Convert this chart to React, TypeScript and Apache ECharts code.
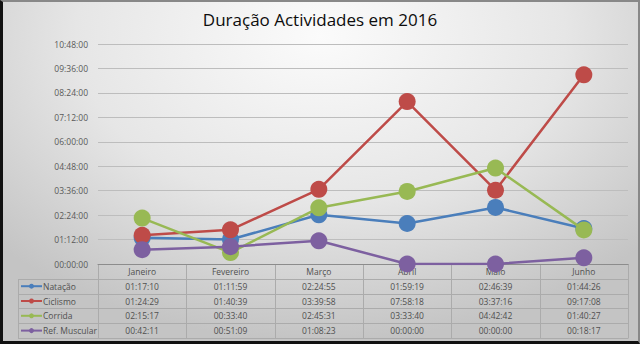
import React, { useEffect, useRef } from "react";
import * as echarts from "echarts";

const categories = ["Janeiro", "Fevereiro", "Março", "Abril", "Maio", "Junho"];
const seriesNames = ["Natação", "Ciclismo", "Corrida", "Ref. Muscular"];
const natacao = ["01:17:10", "01:11:59", "02:24:55", "01:59:19", "02:46:39", "01:44:26"];
const ciclismo = ["01:24:29", "01:40:39", "03:39:58", "07:58:18", "03:37:16", "09:17:08"];
const corrida = ["02:15:17", "00:33:40", "02:45:31", "03:33:40", "04:42:42", "01:40:27"];
const refMuscular = ["00:42:11", "00:51:09", "01:08:23", "00:00:00", "00:00:00", "00:18:17"];
const yMax = "10:48:00";
const yInterval = "01:12:00";

const colors = ["#4a7ebb", "#be4b48", "#98b954", "#7d60a0"];

const toSec = (s: string) => {
  const [h, m, x] = s.split(":").map(Number);
  return h * 3600 + m * 60 + x;
};
const pad = (n: number) => String(n).padStart(2, "0");
const fmt = (v: number) => {
  const h = Math.floor(v / 3600);
  const m = Math.floor((v % 3600) / 60);
  const s = Math.round(v % 60);
  return `${pad(h)}:${pad(m)}:${pad(s)}`;
};

const rows = [natacao, ciclismo, corrida, refMuscular];

const W = 640;
const H = 344;
const GL = 98;
const GR = 628;
const GT = 44;
const GB = 264;
const RH = 14.8;
const TL = 18;
const FONT = "'Open Sans', 'Noto Sans', sans-serif";
const TXT = "#505050";

export default function App() {
  const ref = useRef<HTMLDivElement>(null);
  useEffect(() => {
    if (!ref.current) return;
    const chart = echarts.init(ref.current, undefined, { renderer: "svg" });
    const colW = (GR - GL) / categories.length;
    const graphics: any[] = [];
    const lineColor = "#ababab";
    for (let i = 1; i <= rows.length + 1; i++) {
      const y = Math.round(GB + i * RH) + 0.5;
      graphics.push({
        type: "line",
        shape: { x1: TL, y1: y, x2: GR, y2: y },
        style: { stroke: lineColor, lineWidth: 1 },
        silent: true,
      });
    }
    for (let c = 0; c <= categories.length; c++) {
      const x = Math.round(GL + c * colW) + 0.5;
      graphics.push({
        type: "line",
        shape: { x1: x, y1: GB, x2: x, y2: Math.round(GB + (rows.length + 1) * RH) + 0.5 },
        style: { stroke: lineColor, lineWidth: 1 },
        silent: true,
      });
    }
    graphics.push({
      type: "line",
      shape: { x1: TL + 0.5, y1: Math.round(GB + RH) + 0.5, x2: TL + 0.5, y2: Math.round(GB + (rows.length + 1) * RH) + 0.5 },
      style: { stroke: lineColor, lineWidth: 1 },
      silent: true,
    });
    seriesNames.forEach((name, i) => {
      const cy = GB + (i + 1.5) * RH;
      graphics.push({
        type: "line",
        shape: { x1: 21, y1: cy, x2: 42, y2: cy },
        style: { stroke: colors[i], lineWidth: 2 },
        silent: true,
      });
      graphics.push({
        type: "circle",
        shape: { cx: 31.5, cy, r: 2.5 },
        style: { fill: colors[i] },
        silent: true,
      });
      graphics.push({
        type: "text",
        x: 43,
        y: cy,
        style: {
          text: name,
          fill: TXT,
          font: `8.5px ${FONT}`,
          verticalAlign: "middle",
          align: "left",
        },
        silent: true,
      });
    });

    const xAxes: any[] = [
      {
        type: "category",
        data: categories,
        boundaryGap: true,
        position: "bottom",
        axisLine: { show: true, lineStyle: { color: "#8c8c8c", width: 1 } },
        axisTick: { show: false },
        axisLabel: {
          color: TXT,
          fontSize: 8.5,
          fontFamily: FONT,
          margin: RH / 2,
          verticalAlign: "middle",
        },
      },
    ];
    rows.forEach((r, i) => {
      xAxes.push({
        type: "category",
        data: categories,
        boundaryGap: true,
        position: "bottom",
        offset: (i + 1) * RH,
        axisLine: { show: false },
        axisTick: { show: false },
        axisLabel: {
          color: TXT,
          fontSize: 8.5,
          fontFamily: FONT,
          margin: RH / 2,
          verticalAlign: "middle",
          formatter: (_v: string, idx: number) => fmt(toSec(r[idx])),
        },
      });
    });

    chart.setOption({
      animation: false,
      title: {
        text: "Duração Actividades em 2016",
        left: "center",
        top: 6,
        textStyle: { fontFamily: FONT, fontSize: 17, fontWeight: 500, color: "#0d0d0d" },
      },
      grid: { left: GL, right: W - GR, top: GT, bottom: H - GB, containLabel: false },
      xAxis: xAxes,
      yAxis: {
        type: "value",
        min: 0,
        max: toSec(yMax),
        interval: toSec(yInterval),
        axisLine: { show: false },
        axisTick: { show: false },
        axisLabel: {
          color: "#595959",
          fontSize: 8.5,
          fontFamily: FONT,
          margin: 10,
          formatter: (v: number) => fmt(v),
        },
        splitLine: { lineStyle: { color: "#bdbdbd", width: 1 } },
      },
      series: rows.map((r, i) => ({
        name: seriesNames[i],
        type: "line",
        xAxisIndex: 0,
        data: r.map(toSec),
        symbol: "circle",
        symbolSize: 17,
        itemStyle: { color: colors[i] },
        lineStyle: { color: colors[i], width: 2.5 },
        z: 2 + i,
      })),
      graphic: graphics,
    });
    return () => chart.dispose();
  }, []);

  return (
    <div
      style={{
        position: "absolute",
        left: 0,
        top: 0,
        width: W,
        height: H,
        boxSizing: "border-box",
        borderLeft: "3px solid #111",
        borderBottom: "3px solid #111",
        borderTop: "2px solid #888",
        borderRight: "2px solid #888",
        background: "radial-gradient(ellipse 70% 90% at 50% 10%, #fbfbfb 0%, #e6e6e6 55%, #c4c4c4 100%)",
        overflow: "hidden",
      }}
    >
      <div ref={ref} style={{ position: "absolute", left: -3, top: -2, width: W, height: H }} />
    </div>
  );
}
